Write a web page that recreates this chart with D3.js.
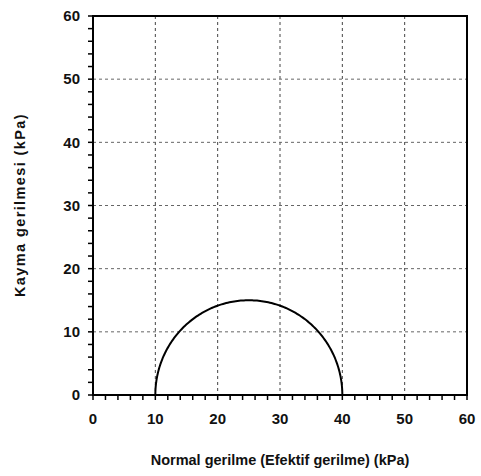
<!DOCTYPE html>
<html>
<head>
<meta charset="utf-8">
<script src="https://cdn.jsdelivr.net/npm/d3@7"></script>
<style>
  body { margin: 0; background: #fff; }
  svg text { font-family: "Liberation Sans", Arial, sans-serif; font-weight: bold; fill: #111; }
</style>
</head>
<body>
<div id="chart"></div>
<script>
// eksen aralıkları ve etiketler
const xDomain = [0, 60];
const yDomain = [0, 60];
const majorTicks = [0, 10, 20, 30, 40, 50, 60];
const minorTicks = d3.range(0, 61, 2);

// Mohr dairesi: gerilmeler (kPa)
const sigma3 = [10];
const sigma1 = [40];

const xTitle = 'Normal gerilme (Efektif gerilme) (kPa)';
const yTitle = 'Kayma gerilmesi (kPa)';

const width = 481, height = 476;
const margin = { top: 16, right: 14, bottom: 81, left: 93 };
const innerW = width - margin.left - margin.right;
const innerH = height - margin.top - margin.bottom;

const svg = d3.select('#chart').append('svg')
    .attr('width', width)
    .attr('height', height);

const g = svg.append('g')
    .attr('transform', `translate(${margin.left},${margin.top})`);

const x = d3.scaleLinear().domain(xDomain).range([0, innerW]);
const y = d3.scaleLinear().domain(yDomain).range([innerH, 0]);

// ızgara çizgileri
g.append('g').selectAll('line')
    .data(majorTicks.slice(1, -1))
    .enter().append('line')
    .attr('x1', d => x(d)).attr('x2', d => x(d))
    .attr('y1', 0).attr('y2', innerH)
    .attr('stroke', '#444')
    .attr('stroke-width', 1)
    .attr('stroke-dasharray', '3,3');

g.append('g').selectAll('line')
    .data(majorTicks.slice(1, -1))
    .enter().append('line')
    .attr('x1', 0).attr('x2', innerW)
    .attr('y1', d => y(d)).attr('y2', d => y(d))
    .attr('stroke', '#666')
    .attr('stroke-width', 1)
    .attr('stroke-dasharray', '3,3');

// küçük çentikler
g.append('g').selectAll('line')
    .data(minorTicks)
    .enter().append('line')
    .attr('x1', d => x(d)).attr('x2', d => x(d))
    .attr('y1', innerH).attr('y2', innerH + 5)
    .attr('stroke', '#000').attr('stroke-width', 1.5);

g.append('g').selectAll('line')
    .data(minorTicks)
    .enter().append('line')
    .attr('x1', -5).attr('x2', 0)
    .attr('y1', d => y(d)).attr('y2', d => y(d))
    .attr('stroke', '#000').attr('stroke-width', 1.5);

// çerçeve
g.append('rect')
    .attr('x', 0).attr('y', 0)
    .attr('width', innerW).attr('height', innerH)
    .attr('fill', 'none')
    .attr('stroke', '#000')
    .attr('stroke-width', 2);

// Mohr dairesi (üst yarı)
const circles = sigma3.map((s3, i) => ({ c: (s3 + sigma1[i]) / 2, r: (sigma1[i] - s3) / 2 }));
const line = d3.line().x(d => x(d[0])).y(d => y(d[1]));

circles.forEach(m => {
    const pts = d3.range(0, 181).map(a => {
        const t = Math.PI * a / 180;
        return [m.c + m.r * Math.cos(t), m.r * Math.sin(t)];
    });
    g.append('path')
        .attr('d', line(pts))
        .attr('fill', 'none')
        .attr('stroke', '#000')
        .attr('stroke-width', 2);
});

// tik etiketleri
g.append('g').selectAll('text')
    .data(majorTicks)
    .enter().append('text')
    .attr('x', d => x(d))
    .attr('y', innerH + 29)
    .attr('text-anchor', 'middle')
    .attr('font-size', '15px')
    .text(d => d);

g.append('g').selectAll('text')
    .data(majorTicks)
    .enter().append('text')
    .attr('x', -13)
    .attr('y', d => y(d))
    .attr('dy', '0.35em')
    .attr('text-anchor', 'end')
    .attr('font-size', '15px')
    .text(d => d);

// eksen başlıkları
svg.append('text')
    .attr('x', margin.left + innerW / 2)
    .attr('y', 465)
    .attr('text-anchor', 'middle')
    .attr('font-size', '14.5px')
    .text(xTitle);

svg.append('text')
    .attr('transform', `translate(25,205) rotate(-90)`)
    .attr('text-anchor', 'middle')
    .attr('font-size', '14.5px')
    .attr('letter-spacing', '1.4px')
    .text(yTitle);
</script>
</body>
</html>
